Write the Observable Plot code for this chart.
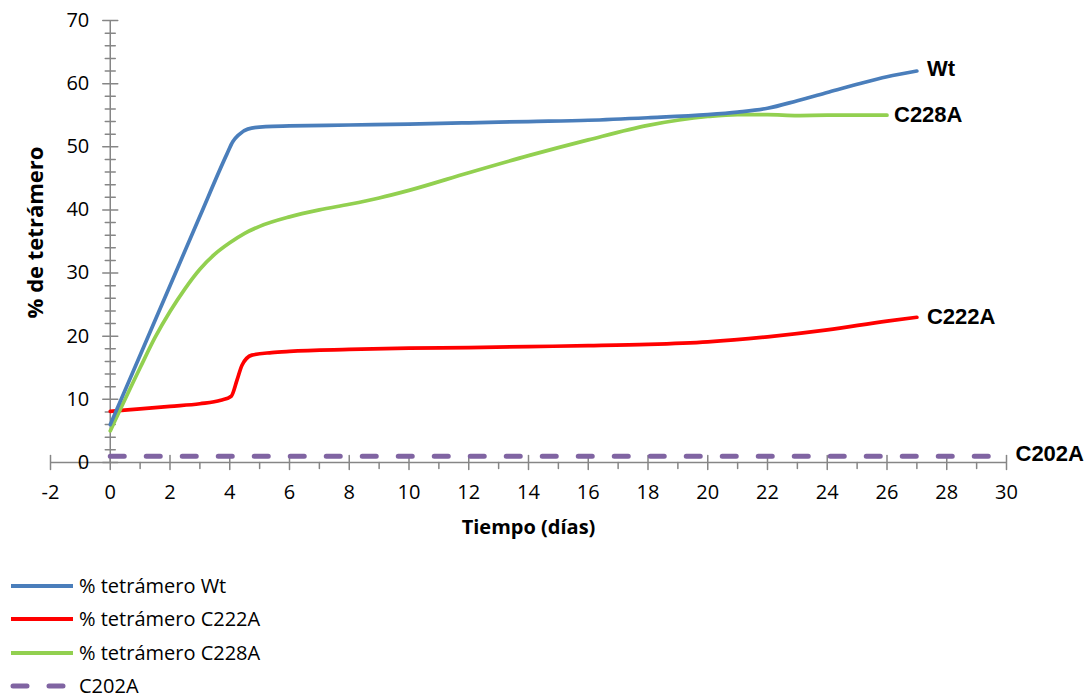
<!DOCTYPE html>
<html>
<head>
<meta charset="utf-8">
<script src="https://cdn.jsdelivr.net/npm/d3@7"></script>
<script src="https://cdn.jsdelivr.net/npm/@observablehq/plot@0.6"></script>
<style>
  body { margin: 0; background: #fff; font-family: "Open Sans", sans-serif; }
  #legend { margin-top: 9px; }
  .item { display: flex; align-items: center; height: 33.5px; font-size: 20px; line-height: 1; color: #000; }
</style>
</head>
<body>
<div id="chart"></div>
<div id="legend"></div>
<script>
// ---- data ----
const wtDays   = [0, 1, 2, 3, 3.9, 4.1, 4.3, 4.6, 5.2, 6, 8, 10, 12, 14, 16, 18, 20, 21, 22, 23, 24, 25, 26, 27];
const wtValues = [6, 17.0, 28.0, 39.0, 48.8, 50.8, 51.9, 52.8, 53.2, 53.3, 53.45, 53.6, 53.8, 54, 54.2, 54.6, 55.1, 55.5, 56.1, 57.3, 58.6, 59.9, 61.1, 62];

const c222aDays   = [0, 1, 2, 3, 3.7, 4.05, 4.24, 4.41, 4.74, 5.4, 6, 8, 10, 12, 14, 16, 18, 20, 22, 24, 26, 27];
const c222aValues = [8.1, 8.5, 8.9, 9.3, 9.85, 10.5, 13.0, 15.4, 17.0, 17.4, 17.6, 17.9, 18.1, 18.2, 18.35, 18.5, 18.7, 19.1, 19.9, 21.0, 22.4, 23];

const c228aDays   = [0, 1, 1.5, 2, 2.5, 3, 3.5, 4, 4.5, 5, 6, 7, 8, 9, 10, 12, 14, 16, 18, 20, 21, 22, 23, 24, 26];
const c228aValues = [5, 15.0, 19.8, 23.9, 27.5, 30.6, 33.0, 34.8, 36.3, 37.4, 38.9, 40, 40.9, 41.9, 43.1, 45.9, 48.6, 51.1, 53.4, 54.8, 55.1, 55.1, 54.95, 55, 55];

const c202aDays   = [0, 30];
const c202aValues = [1, 1];

const xTickLabels = [-2, 0, 2, 4, 6, 8, 10, 12, 14, 16, 18, 20, 22, 24, 26, 28, 30];
const xMinorTicks = [-1, 1, 3, 5, 7, 9, 11, 13, 15, 17, 19, 21, 23, 25, 27, 29];
const yTickLabels = [0, 10, 20, 30, 40, 50, 60, 70];
const yMinorTicks = [2, 4, 6, 8, 12, 14, 16, 18, 22, 24, 26, 28, 32, 34, 36, 38, 42, 44, 46, 48, 52, 54, 56, 58, 62, 64, 66, 68];

const seriesNames  = ["% tetrámero Wt", "% tetrámero C222A", "% tetrámero C228A", "C202A"];
const endLabels    = ["Wt", "C222A", "C228A", "C202A"];
const seriesColors = ["#4a7ebb", "#ff0000", "#92d050", "#8064a2"];

// ---- build tables ----
const zip = (days, vals) => days.map((d, i) => ({day: d, value: vals[i]}));
const wt = zip(wtDays, wtValues);
const c222a = zip(c222aDays, c222aValues);
const c228a = zip(c228aDays, c228aValues);
const c202a = zip(c202aDays, c202aValues);

const axisColor = "#868686";
const tickLine = {draw(context, l) { context.moveTo(0, 0); context.lineTo(0, -l); }};
const labelFont = {fontFamily: "Liberation Sans, Arial, sans-serif", fontWeight: "bold", fontSize: 22, fill: "#000"};

const chart = Plot.plot({
  width: 1091,
  height: 560,
  marginLeft: 50,
  marginRight: 85,
  marginTop: 20,
  marginBottom: 98,
  style: {fontFamily: "Open Sans, sans-serif", background: "#fff", overflow: "visible"},
  x: {domain: [-2, 30], axis: null},
  y: {domain: [0, 70], axis: null},
  marks: [
    // axes lines
    Plot.ruleY([0], {x1: -2, x2: 30, stroke: axisColor, strokeWidth: 1.5}),
    Plot.ruleX([0], {y1: 0, y2: 70, stroke: axisColor, strokeWidth: 1.5}),
    // y ticks
    Plot.vector(yTickLabels, {x: 0, y: d => d, length: 15, rotate: 90, anchor: "middle", shape: tickLine, stroke: axisColor, strokeWidth: 1.5}),
    Plot.vector(yMinorTicks, {x: 0, y: d => d, length: 10, rotate: 90, anchor: "middle", shape: tickLine, stroke: axisColor, strokeWidth: 1.5}),
    // x ticks
    Plot.vector(xTickLabels, {x: d => d, y: 0, length: 14, rotate: 0, anchor: "middle", shape: tickLine, stroke: axisColor, strokeWidth: 1.5}),
    Plot.vector(xMinorTicks, {x: d => d, y: 0, length: 6, rotate: 180, anchor: "start", shape: tickLine, stroke: axisColor, strokeWidth: 1.5}),
    // tick labels
    Plot.text(yTickLabels, {x: 0, y: d => d, text: d => String(d), dx: -21, textAnchor: "end", fontSize: 20, fill: "#000"}),
    Plot.text(xTickLabels, {x: d => d, y: 0, text: d => String(d), dy: 30, fontSize: 20, fill: "#000"}),
    // axis titles
    Plot.text(["Tiempo (días)"], {frameAnchor: "bottom", text: d => d, dy: 65, lineAnchor: "middle", textAnchor: "middle", fontSize: 20, fontWeight: "bold", fill: "#000"}),
    Plot.text(["% de tetrámero"], {frameAnchor: "left", text: d => d, rotate: -90, dx: -15, dy: -9, textAnchor: "middle", lineAnchor: "middle", fontSize: 22, fontWeight: "bold", fill: "#000"}),
    // series
    Plot.line(c202a, {x: "day", y: "value", stroke: seriesColors[3], strokeWidth: 5, strokeDasharray: "14 22", strokeLinecap: "round"}),
    Plot.line(c222a, {x: "day", y: "value", stroke: seriesColors[1], strokeWidth: 3.7, curve: "monotone-x"}),
    Plot.line(c228a, {x: "day", y: "value", stroke: seriesColors[2], strokeWidth: 3.7, curve: "monotone-x"}),
    Plot.line(wt, {x: "day", y: "value", stroke: seriesColors[0], strokeWidth: 3.7, curve: "monotone-x"}),
    // end labels
    Plot.text(wt, Plot.selectLast({x: "day", y: "value", text: () => endLabels[0], dx: 10, dy: -2, textAnchor: "start", ...labelFont})),
    Plot.text(c222a, Plot.selectLast({x: "day", y: "value", text: () => endLabels[1], dx: 10, textAnchor: "start", ...labelFont})),
    Plot.text(c228a, Plot.selectLast({x: "day", y: "value", text: () => endLabels[2], dx: 7, textAnchor: "start", ...labelFont})),
    Plot.text(c202a, Plot.selectLast({x: "day", y: "value", text: () => endLabels[3], dx: 9, dy: -2, textAnchor: "start", ...labelFont}))
  ]
});
document.getElementById("chart").appendChild(chart);

// ---- legend ----
const legend = document.getElementById("legend");
seriesNames.forEach((name, i) => {
  const item = document.createElement("div");
  item.className = "item";
  const dashed = i === 3;
  item.innerHTML = `<svg width="66" height="10" style="margin-left:9px;margin-right:4px;overflow:visible">
    <line x1="${dashed ? 4 : 2}" x2="${dashed ? 54 : 64}" y1="5" y2="5" stroke="${seriesColors[i]}"
      stroke-width="${dashed ? 5 : 4}" ${dashed ? 'stroke-dasharray="14 22" stroke-linecap="round"' : ''}/></svg><span>${name}</span>`;
  legend.appendChild(item);
});
</script>
</body>
</html>
